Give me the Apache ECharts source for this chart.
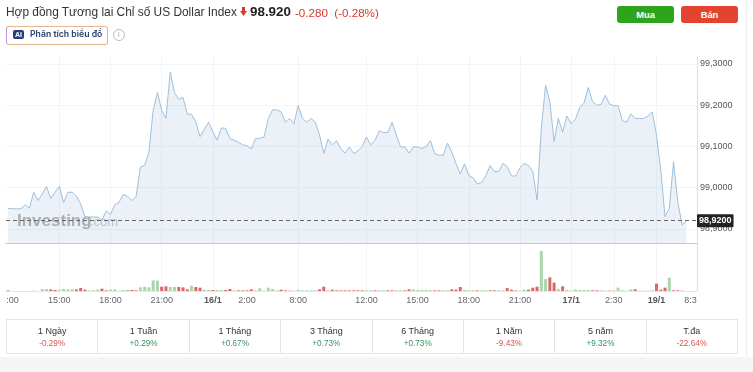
<!DOCTYPE html>
<html>
<head>
<meta charset="utf-8">
<script src="https://cdn.jsdelivr.net/npm/echarts@6/dist/echarts.min.js"></script>
<style>
html, body { margin: 0; padding: 0; background: #fff; overflow: hidden; }
#page { position: relative; width: 753px; height: 372px; overflow: hidden; font-family: "Liberation Sans", Arial, sans-serif; color: #333; }
#chart { position: absolute; left: 0; top: 0; width: 753px; height: 372px; }
.abs { position: absolute; white-space: nowrap; }
#foot { position: absolute; left: 0; top: 357px; width: 753px; height: 15px; background: #f5f5f5; }
#edge { position: absolute; left: 746px; top: 0; width: 1px; height: 357px; background: #eee; }
#title { left: 6px; top: 4px; font-size: 11.9px; line-height: 17px; }
#price { left: 250px; top: 3px; font-size: 13.4px; line-height: 18px; font-weight: 700; color: #222; }
#chg { left: 295px; top: 4px; font-size: 11.6px; line-height: 17px; color: #d93a2b; }
#ai { left: 6px; top: 26px; width: 100px; height: 17px; border: 1px solid #e6b48c; border-left-color: #b49ae8; border-radius: 3px; }
#aiTag { left: 13px; top: 30px; width: 11px; height: 9px; background: #24407c; border-radius: 2px; color: #fff; font-size: 7px; line-height: 9px; font-weight: 700; text-align: center; }
#aiText { left: 30px; top: 28px; font-family: Inter, sans-serif; font-size: 8.7px; line-height: 13px; font-weight: 600; color: #27406f; }
#info { left: 113px; top: 29px; width: 10px; height: 10px; border: 1px solid #bbb; border-radius: 50%; font-size: 8px; line-height: 10px; text-align: center; color: #aaa; }
.btn { top: 6px; height: 17px; border-radius: 3px; color: #fff; font-size: 9.4px; line-height: 17px; font-weight: 700; text-align: center; }
#buy { left: 617px; width: 57px; background: #2ea31c; }
#sell { left: 681px; width: 57px; background: #e2442f; }
#perf { position: absolute; left: 6px; top: 319px; width: 732px; height: 35px; box-sizing: border-box; border: 1px solid #e4e4e4; display: flex; }
#perf div.cell { flex: 1; border-left: 1px solid #e4e4e4; text-align: center; }
#perf div.cell:first-child { border-left: 0; }
#perf .name { font-size: 9px; line-height: 12px; margin-top: 5px; color: #333; }
#perf .pct { font-size: 8.2px; line-height: 12px; margin-top: 1px; }
</style>
</head>
<body>
<div id="page">
    <div id="chart"></div>
    <div id="foot"></div>
    <div id="edge"></div>
    <div class="abs" id="title">Hợp đồng Tương lai Chỉ số US Dollar Index</div>
    <svg class="abs" style="left:240px;top:7px" width="7" height="10"><polygon points="2,0 5,0 5,4 7,4 3.5,9 0,4 2,4" fill="#d93a2b"/></svg>
    <div class="abs" id="price">98.920</div>
    <div class="abs" id="chg">-0.280&nbsp;&nbsp;(-0.28%)</div>
    <div class="abs" id="ai"></div>
    <div class="abs" id="aiTag">AI</div>
    <div class="abs" id="aiText">Phân tích biểu đồ</div>
    <div class="abs" id="info">i</div>
    <div class="abs btn" id="buy">Mua</div>
    <div class="abs btn" id="sell">Bán</div>
    <div id="perf"></div>
</div>
<script>
// gia theo tung moc 15 phut, doc tu hinh
var priceValues = [
    98.950, 98.949, 98.949, 98.949, 98.959, 98.950, 98.989, 98.969, 98.985, 99.003,
    98.974, 98.989, 99.003, 98.964, 98.989, 98.989, 98.980, 98.961, 98.930, 98.929,
    98.929, 98.929, 98.922, 98.944, 98.935, 98.959, 98.965, 98.984, 98.979, 98.969,
    98.979, 99.050, 99.054, 99.086, 99.188, 99.231, 99.188, 99.168, 99.281, 99.231,
    99.214, 99.219, 99.179, 99.178, 99.159, 99.124, 99.142, 99.159, 99.136, 99.115,
    99.145, 99.144, 99.119, 99.115, 99.110, 99.104, 99.102, 99.094, 99.119, 99.120,
    99.123, 99.168, 99.189, 99.189, 99.184, 99.159, 99.168, 99.155, 99.199, 99.168,
    99.159, 99.168, 99.159, 99.128, 99.083, 99.118, 99.104, 99.114, 99.094, 99.084,
    99.099, 99.083, 99.089, 99.100, 99.123, 99.104, 99.115, 99.138, 99.134, 99.134,
    99.159, 99.128, 99.099, 99.099, 99.084, 99.099, 99.099, 99.095, 99.100, 99.114,
    99.083, 99.079, 99.079, 99.108, 99.087, 99.059, 99.033, 99.058, 99.030, 99.024,
    99.009, 99.013, 99.029, 99.054, 99.039, 99.039, 99.059, 99.051, 99.029, 99.028,
    99.049, 99.059, 99.054, 99.040, 98.970, 99.144, 99.249, 99.209, 99.112, 99.168,
    99.135, 99.174, 99.155, 99.166, 99.194, 99.205, 99.243, 99.209, 99.200, 99.202,
    99.224, 99.203, 99.199, 99.199, 99.163, 99.159, 99.179, 99.168, 99.168, 99.168,
    99.174, 99.184, 99.128, 99.043, 98.930, 98.950, 99.063, 98.966, 98.910, 98.919
];
var volumeValues = [
    2, 0, 0, 0, 0, 0, 1, 0, 6, 6, 5, 3, 4, 6, 5, 5, 5, 9, 4, 2,
    2, 4, 7, 2, 4, 5, 1, 3, 4, 3, 2, 11, 13, 11, 32, 31, 13, 14, 12, 12,
    12, 11, 5, 16, 12, 10, 4, 3, 3, 3, 3, 3, 6, 1, 2, 2, 2, 5, 1, 8,
    1, 10, 6, 2, 4, 2, 1, 1, 4, 2, 2, 2, 1, 5, 13, 1, 4, 2, 2, 2,
    2, 2, 2, 2, 2, 2, 2, 2, 2, 2, 2, 2, 2, 2, 5, 5, 3, 3, 3, 3,
    2, 2, 2, 2, 5, 4, 12, 3, 2, 2, 2, 2, 2, 2, 2, 2, 2, 9, 4, 3,
    1, 4, 4, 10, 13, 120, 36, 41, 25, 6, 14, 3, 2, 5, 3, 3, 3, 2, 2, 1,
    1, 1, 1, 10, 2, 1, 5, 5, 1, 1, 1, 1, 22, 4, 10, 40, 2, 2, 1, 0
];
// 1 = xanh, 0 = do
var volumeUp = [
    0, 1, 1, 1, 1, 1, 1, 1, 1, 1, 0, 0, 1, 1, 1, 1, 0, 0, 0, 1,
    1, 1, 0, 0, 1, 1, 1, 1, 1, 0, 0, 1, 1, 1, 1, 1, 0, 0, 1, 1,
    0, 0, 0, 1, 0, 0, 1, 1, 0, 1, 1, 0, 0, 0, 0, 0, 0, 0, 0, 1,
    1, 1, 1, 1, 0, 0, 0, 1, 1, 1, 1, 1, 0, 0, 0, 0, 0, 0, 0, 0,
    0, 0, 0, 0, 1, 1, 0, 1, 1, 0, 0, 1, 1, 0, 0, 1, 1, 1, 1, 1,
    0, 0, 1, 1, 0, 0, 0, 1, 1, 1, 0, 1, 1, 0, 0, 1, 1, 0, 0, 1,
    1, 1, 0, 0, 0, 1, 1, 0, 0, 1, 0, 1, 1, 1, 1, 1, 1, 0, 0, 0,
    1, 0, 0, 1, 1, 1, 1, 0, 1, 1, 1, 0, 0, 0, 0, 1, 0, 0, 0, 0
];
var bandCount = 162;
var tickIndex = [1, 12, 24, 36, 48, 56, 68, 84, 96, 108, 120, 132, 142, 152, 160];
var tickText = [':00', '15:00', '18:00', '21:00', '16/1', '2:00', '8:00', '12:00', '15:00', '18:00', '21:00', '17/1', '2:30', '19/1', '8:3'];
var gridIndex = [12, 24, 36, 48, 68, 84, 96, 108, 120, 132, 142, 152];
var priceTicks = [98.9, 99.0, 99.1, 99.2, 99.3];
var priceMin = 98.866;
var priceMax = 99.3194;
var lastPrice = 98.92;
var periodNames = ['1 Ngày', '1 Tuần', '1 Tháng', '3 Tháng', '6 Tháng', '1 Năm', '5 năm', 'T.đa'];
var periodChanges = ['-0.29%', '+0.29%', '+0.67%', '+0.73%', '+0.73%', '-9.43%', '+9.32%', '-22.64%'];

var categories = [];
for (var i = 0; i < bandCount; i++) {
    var pos = tickIndex.indexOf(i);
    categories.push(pos >= 0 ? tickText[pos] : '');
}

var perfHtml = '';
periodNames.forEach(function (name, idx) {
    var change = periodChanges[idx];
    var color = change.charAt(0) === '-' ? '#d9544d' : '#3a9163';
    perfHtml += '<div class="cell"><div class="name">' + name + '</div><div class="pct" style="color:' + color + '">' + change + '</div></div>';
});
document.getElementById('perf').innerHTML = perfHtml;

var chartFont = '"Liberation Sans", Arial, sans-serif';
var gridLine = { color: '#f3f4f6', width: 1 };

function isGridIndex(index) {
    return gridIndex.indexOf(index) >= 0;
}

var chart = echarts.init(document.getElementById('chart'));
chart.setOption({
    animation: false,
    grid: [
        { left: 6, right: 56, top: 56, height: 187 },
        { left: 6, right: 56, top: 243, height: 48 },
    ],
    graphic: [
        {
            type: 'text', left: 17, top: 213, z: 1, silent: true,
            style: { text: 'Investing', fontFamily: chartFont, fontSize: 17, fontWeight: 'bold', fill: '#a9a9a9' },
        },
        {
            type: 'text', left: 90, top: 216, z: 1, silent: true,
            style: { text: '.com', fontFamily: chartFont, fontSize: 13, fill: '#c2c2c2' },
        },
    ],
    xAxis: [
        {
            type: 'category',
            gridIndex: 0,
            data: categories,
            boundaryGap: true,
            axisLine: { lineStyle: { color: '#c8c8c8' } },
            axisTick: { show: false },
            axisLabel: { show: false },
            splitLine: { show: true, alignWithLabel: true, interval: isGridIndex, lineStyle: gridLine },
        },
        {
            type: 'category',
            gridIndex: 1,
            data: categories,
            boundaryGap: true,
            axisLine: { lineStyle: { color: '#e6e6e6' } },
            axisTick: { show: true, alignWithLabel: true, interval: isGridIndex, length: 3, lineStyle: gridLine },
            splitLine: { show: true, alignWithLabel: true, interval: isGridIndex, lineStyle: gridLine },
            axisLabel: {
                interval: 0,
                hideOverlap: false,
                margin: 5,
                fontFamily: chartFont,
                fontSize: 9,
                color: '#666',
                formatter: function (v) {
                    return v.indexOf('/') > 0 ? '{d|' + v + '}' : v;
                },
                rich: { d: { fontFamily: chartFont, fontSize: 9, fontWeight: 'bold', color: '#555' } },
            },
        },
    ],
    yAxis: [
        {
            type: 'value',
            gridIndex: 0,
            position: 'right',
            min: priceMin,
            max: priceMax,
            axisLine: { show: true, lineStyle: { color: '#e0e0e0' } },
            axisTick: { show: false, customValues: priceTicks },
            axisLabel: {
                customValues: priceTicks,
                margin: 3,
                fontFamily: chartFont,
                fontSize: 9,
                color: '#555',
                formatter: function (v) {
                    return v.toFixed(4).replace('.', ',');
                },
            },
            splitLine: { show: true, lineStyle: gridLine },
        },
        {
            type: 'value',
            gridIndex: 1,
            position: 'right',
            min: 0,
            max: 144,
            axisLine: { show: true, lineStyle: { color: '#e0e0e0' } },
            axisTick: { show: false },
            axisLabel: { show: false },
            splitLine: { show: false },
        },
    ],
    series: [
        {
            type: 'line',
            xAxisIndex: 0,
            yAxisIndex: 0,
            data: priceValues,
            symbol: 'none',
            smooth: false,
            lineStyle: { color: '#9cc0dd', width: 1 },
            areaStyle: { color: 'rgba(170,195,218,0.33)', origin: 'start' },
            markLine: {
                silent: true,
                symbol: 'none',
                z: 10,
                lineStyle: { color: '#666', type: [4, 3], width: 1 },
                label: {
                    position: 'end',
                    distance: 0,
                    formatter: function () {
                        return lastPrice.toFixed(4).replace('.', ',');
                    },
                    backgroundColor: '#222',
                    color: '#fff',
                    fontFamily: chartFont,
                    fontSize: 9,
                    fontWeight: 'bold',
                    padding: [2, 2],
                    borderRadius: 1,
                },
                data: [{ yAxis: lastPrice }],
            },
        },
        {
            type: 'bar',
            xAxisIndex: 1,
            yAxisIndex: 1,
            data: volumeValues.map(function (v, idx) {
                return { value: v, itemStyle: { color: volumeUp[idx] ? '#aad6ad' : '#d9686b' } };
            }),
            barWidth: 3,
        },
    ],
});
</script>
</body>
</html>
